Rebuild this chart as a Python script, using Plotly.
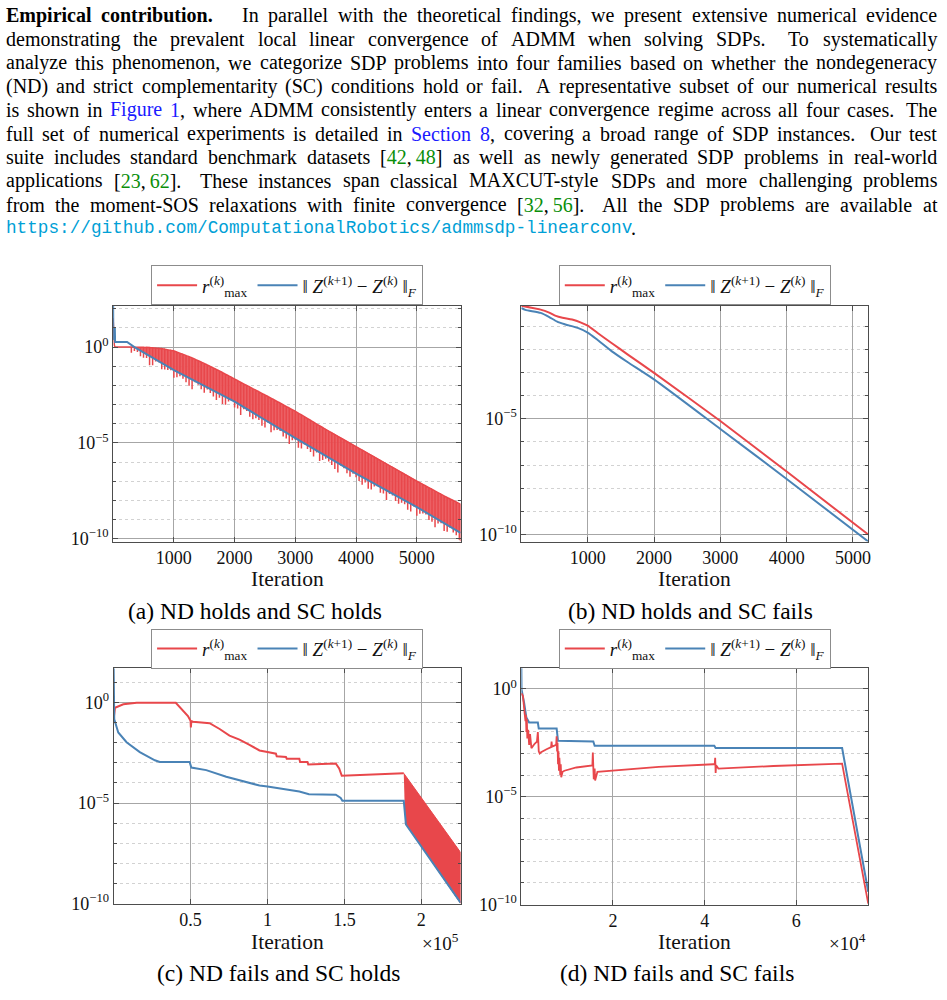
import re
import plotly.graph_objects as go

W, H = 947, 1000
RED = '#E8474B'
RED_FILL = 'rgba(235,84,88,0.93)'
BLUE = '#4A83B6'
GRID = '#a6a6a6'
MINOR = '#d2d2d2'
FRAME = '#4d4d4d'
SERIF = 'Liberation Serif'
MONO = 'Liberation Mono'
TXT = '#111111'

# ---------------- data (y values are log10 of the plotted quantity) ----------------
# (a) ND holds and SC holds
a_blue_x = [0, 3, 20, 28, 32, 230, 350, 1000, 2000, 3000, 4000, 5000, 5720]
a_blue_y = [2.15, 0.4, 0.45, 1.0, 0.27, 0.27, 0.0, -1.2, -2.85, -4.75, -6.6, -8.35, -9.7]
a_red_head_x = [0, 8, 20, 30, 300]
a_red_head_y = [1.5, 0.8, 0.1, 0.0, 0.0]
a_spike_x = [300, 400, 500, 600, 700, 800, 900, 1000, 1100, 1200, 1300, 1400, 1500, 1600,
             1700, 1800, 1900, 2000, 2100, 2200, 2300, 2400, 2500, 2600, 2700, 2800, 2900,
             3000, 3100, 3200, 3300, 3400, 3500, 3600, 3700, 3800, 3900, 4000, 4100, 4200,
             4300, 4400, 4500, 4600, 4700, 4800, 4900, 5000, 5100, 5200, 5300, 5400, 5500,
             5600, 5700]
a_spike_hi = [0.0, -0.01, -0.01, -0.02, -0.05, -0.08, -0.14, -0.2, -0.32, -0.44, -0.57, -0.71,
              -0.85, -1.01, -1.17, -1.33, -1.5, -1.67, -1.84, -2.0, -2.17, -2.33, -2.5, -2.67,
              -2.84, -3.01, -3.18, -3.35, -3.54, -3.73, -3.92, -4.11, -4.3, -4.48, -4.66,
              -4.84, -5.02, -5.2, -5.38, -5.56, -5.74, -5.92, -6.1, -6.28, -6.46, -6.64, -6.82,
              -7.0, -7.17, -7.34, -7.51, -7.68, -7.85, -8.01, -8.17]
a_spike_lo = [-0.3, -0.25, -0.55, -0.95, -0.75, -1.15, -1.2, -1.6, -1.52, -1.83, -2.2, -1.96,
              -2.38, -2.39, -2.76, -2.97, -2.84, -3.15, -3.54, -3.33, -3.77, -3.81, -4.2, -4.44,
              -4.33, -4.67, -5.06, -4.85, -5.29, -5.32, -5.71, -5.94, -5.83, -6.16, -6.55,
              -6.33, -6.77, -6.8, -7.18, -7.4, -7.28, -7.6, -7.98, -7.75, -8.18, -8.2, -8.58,
              -8.8, -8.69, -9.03, -9.41, -9.2, -9.64, -9.68, -10.06]
a_mid_x = [350, 450, 550, 650, 750, 850, 950, 1050, 1150, 1250, 1350, 1450, 1550, 1650, 1750,
           1850, 1950, 2050, 2150, 2250, 2350, 2450, 2550, 2650, 2750, 2850, 2950, 3050, 3150,
           3250, 3350, 3450, 3550, 3650, 3750, 3850, 3950, 4050, 4150, 4250, 4350, 4450, 4550,
           4650, 4750, 4850, 4950, 5050, 5150, 5250, 5350, 5450, 5550, 5650]
a_mid_hi = [0.0, -0.01, -0.015, -0.035, -0.065, -0.11, -0.17, -0.26, -0.38, -0.5, -0.64, -0.78,
            -0.93, -1.09, -1.25, -1.42, -1.58, -1.75, -1.92, -2.08, -2.25, -2.42, -2.58, -2.75,
            -2.92, -3.1, -3.27, -3.45, -3.63, -3.82, -4.02, -4.2, -4.39, -4.57, -4.75, -4.93,
            -5.11, -5.29, -5.47, -5.65, -5.83, -6.01, -6.19, -6.37, -6.55, -6.73, -6.91, -7.08,
            -7.25, -7.42, -7.6, -7.77, -7.93, -8.09]
a_mid_lo = [-0.2, -0.48, -0.57, -0.95, -0.79, -1.17, -1.21, -1.58, -1.65, -2.02, -1.83, -2.2,
            -2.21, -2.58, -2.64, -3.01, -2.82, -3.2, -3.24, -3.63, -3.72, -4.11, -3.95, -4.34,
            -4.38, -4.77, -4.86, -5.25, -5.08, -5.47, -5.5, -5.89, -5.97, -6.36, -6.19, -6.58,
            -6.61, -6.99, -7.07, -7.44, -7.27, -7.64, -7.67, -8.04, -8.12, -8.49, -8.32, -8.7,
            -8.74, -9.12, -9.21, -9.6, -9.44, -9.82]
a_red_tail_x = [5720, 5720]
a_red_tail_y = [-8.2, -10.15]

# (b) ND holds and SC fails
b_red_x = [0, 290, 420, 520, 620, 765, 900, 1000, 1150, 1365, 1600, 2000, 3000, 4000, 5230]
b_red_y = [-0.12, -0.29, -0.42, -0.56, -0.64, -0.72, -0.85, -0.98, -1.3, -1.74, -2.22, -3.02,
           -5.1, -7.28, -10.0]
b_blue_x = [0, 60, 291, 415, 540, 665, 850, 1000, 1150, 1365, 1600, 2000, 3000, 4000, 5230]
b_blue_y = [-0.22, -0.3, -0.43, -0.6, -0.81, -0.93, -1.08, -1.28, -1.6, -2.09, -2.55, -3.3,
            -5.44, -7.6, -10.3]

# (c) ND fails and SC holds  (x in units of 1e5 iterations)
c_red_x = [0, 0.009, 0.063, 0.15, 0.404, 0.45, 0.483, 0.5, 0.502, 0.505, 0.516, 0.624, 0.689,
           0.753, 0.818, 0.883, 0.948, 1.0, 1.055, 1.06, 1.12, 1.125, 1.207, 1.212, 1.26,
           1.265, 1.444, 1.466, 1.483, 1.886]
c_red_y = [-0.82, -0.25, -0.08, 0.0, 0.0, -0.36, -0.66, -0.9, -1.23, -0.92, -0.95, -1.02,
           -1.31, -1.64, -1.84, -2.1, -2.38, -2.46, -2.54, -2.67, -2.7, -2.79, -2.79, -2.95,
           -2.95, -3.08, -3.03, -3.28, -3.64, -3.52]
c_band_x = [1.886, 2.255, 2.255, 1.895]
c_band_y = [-3.52, -7.46, -10.0, -5.98]
c_blue_x = [0, 0.002, 0.004, 0.03, 0.084, 0.17, 0.268, 0.3, 0.494, 0.505, 0.602, 0.732, 0.861,
            0.948, 1.0, 1.12, 1.207, 1.27, 1.444, 1.476, 1.487, 1.886, 1.9, 2.255]
c_blue_y = [1.72, 0.0, -0.82, -1.48, -1.97, -2.46, -2.87, -2.95, -2.95, -3.23, -3.36, -3.69,
            -3.97, -4.13, -4.18, -4.34, -4.43, -4.56, -4.59, -4.75, -4.89, -4.89, -6.07, -9.97]

# (d) ND fails and SC fails  (x in units of 1e4 iterations)
d_red_x = [0.0, 0.035, 0.07, 0.09, 0.1, 0.11, 0.12, 0.13, 0.15, 0.17, 0.19, 0.22, 0.29, 0.34,
           0.36, 0.38, 0.4, 0.43, 0.55, 0.65, 0.66, 0.67, 0.76, 0.77, 0.78, 0.79, 0.8, 0.81,
           0.82, 0.83, 0.85, 0.86, 0.87, 0.9, 0.94, 1.2, 1.55, 1.56, 1.57, 1.58, 1.6, 1.61,
           1.66, 2.13, 3.0, 4.19, 4.22, 4.23, 4.24, 4.25, 4.3, 5.5, 7.0, 7.57]
d_red_y = [-0.2, -0.33, -1.1, -1.5, -1.2, -2.0, -1.4, -2.3, -1.9, -2.6, -2.1, -2.75, -2.55,
           -2.45, -2.0, -2.9, -3.0, -2.94, -2.8, -2.7, -2.45, -2.68, -2.6, -2.2, -2.9, -2.5,
           -3.5, -2.9, -3.8, -3.2, -4.0, -3.5, -4.1, -3.85, -3.8, -3.65, -3.55, -2.95, -3.6,
           -4.2, -3.7, -4.25, -3.85, -3.78, -3.62, -3.5, -3.5, -3.2, -3.9, -3.55, -3.7, -3.58,
           -3.47, -9.97]
d_blue_x = [0, 0.004, 0.06, 0.11, 0.17, 0.36, 0.38, 0.77, 0.8, 1.57, 1.6, 4.21, 4.24, 7.0, 7.57]
d_blue_y = [0.97, -0.03, -0.64, -1.33, -1.56, -1.56, -1.84, -1.84, -2.41, -2.44, -2.64, -2.64,
            -2.75, -2.75, -9.42]

# axis ticks / labels
iter_ticks = [1000, 2000, 3000, 4000, 5000]
c_ticks = [0.5, 1, 1.5, 2]
c_ticktext = ['0.5', '1', '1.5', '2']
d_ticks = [2, 4, 6]
d_ticktext = ['2', '4', '6']
captions = ['(a) ND holds and SC holds', '(b) ND holds and SC fails',
            '(c) ND fails and SC holds', '(d) ND fails and SC fails']
R_NAME = "<i>r</i><sup>(<i>k</i>)</sup><sub>max</sub>"
Z_NAME = "‖ <i>Z</i><sup>(<i>k</i>+1)</sup> − <i>Z</i><sup>(<i>k</i>)</sup> ‖<sub><i>F</i></sub>"

LINK = '#1a1aff'
CITE = '#0a8f0a'
URLC = '#00A0D6'
para_lines = [
    "<b>Empirical</b> <b>contribution.</b>¦ In parallel with the theoretical findings, we present extensive numerical evidence",
    "demonstrating the prevalent local linear convergence of ADMM when solving SDPs.  To systematically",
    "analyze this phenomenon, we categorize SDP problems into four families based on whether the nondegeneracy",
    "(ND) and strict complementarity (SC) conditions hold or fail.  A representative subset of our numerical results",
    "is shown in §Figure§ §1§, where ADMM consistently enters a linear convergence regime across all four cases.  The",
    "full set of numerical experiments is detailed in §Section§ §8§, covering a broad range of SDP instances.  Our test",
    "suite includes standard benchmark datasets [¤42¤,\u2009¤48¤] as well as newly generated SDP problems in real-world",
    "applications [¤23¤,\u2009¤62¤].  These instances span classical MAXCUT-style SDPs and more challenging problems",
    "from the moment-SOS relaxations with finite convergence [¤32¤,\u2009¤56¤].  All the SDP problems are available at",
]
url_text = "https://github.com/ComputationalRobotics/admmsdp-linearconv"

# ---------------- helpers ----------------
def L(v):
    return [10 ** t for t in v]

def px_x(p):
    return p / W

def px_y(p):
    return 1 - p / H

TR = dict(zip("abcdefghijklmnopqrstuvwxyz",
              [444, 500, 444, 500, 444, 333, 500, 500, 278, 278, 500, 278, 778, 500, 500, 500,
               500, 333, 389, 278, 500, 500, 722, 500, 500, 444]))
TR.update(dict(zip("ABCDEFGHIJKLMNOPQRSTUVWXYZ",
                   [722, 667, 667, 722, 611, 556, 722, 722, 333, 389, 722, 611, 889, 722, 722,
                    556, 722, 667, 556, 611, 722, 722, 944, 722, 722, 611])))
TR.update({c: 500 for c in "0123456789"})
TR.update({' ': 250, '.': 250, ',': 250, '(': 333, ')': 333, '[': 333, ']': 333, '-': 333,
           '/': 278, ':': 278, '\u2009': 200})
TB = dict(zip("abcdefghijklmnopqrstuvwxyz",
              [500, 556, 444, 556, 444, 333, 500, 556, 278, 333, 556, 278, 833, 556, 500, 556,
               556, 444, 389, 333, 556, 500, 722, 500, 500, 444]))
TB.update({'E': 667, '.': 250, ' ': 250})


def word_em(html):
    w = 0
    bold = False
    for tok in re.split(r'(<[^>]+>)', html):
        if tok.startswith('<'):
            if tok == '<b>':
                bold = True
            elif tok == '</b>':
                bold = False
            continue
        for ch in tok:
            w += (TB if bold else TR).get(ch, 500)
    return w / 1000.0


def markup(word):
    word = re.sub(r'§(.*?)§', lambda m: "<span style='color:%s'>%s</span>" % (LINK, m.group(1)), word)
    word = re.sub(r'¤(.*?)¤', lambda m: "<span style='color:%s'>%s</span>" % (CITE, m.group(1)), word)
    return word


annotations = []
X0, X1 = 6.0, 940.0
LINE0, LSTEP = 15.5, 23.9

parsed = []
for line in para_lines:
    parts = re.split(r'( +)', line)
    words = parts[0::2]
    gaps = parts[1::2]
    items = []
    for wd in words:
        extra = 0.0
        if wd.endswith('¦'):
            wd = wd[:-1]
            extra = 1.0
        plain = wd.replace('§', '').replace('¤', '')
        items.append((markup(wd), word_em(plain), extra))
    parsed.append((items, gaps))

size_lim = []
for items, gaps in parsed:
    em = sum(w + e for _, w, e in items) + sum(0.25 if len(g) == 1 else 0.33 for g in gaps)
    size_lim.append((X1 - X0) / em)
PS = min(20.0, min(size_lim) * 0.995)

for i, (items, gaps) in enumerate(parsed):
    yc = LINE0 + LSTEP * i
    base = [(0.25 if len(g) == 1 else 0.33) * PS for g in gaps]
    wts = [1.0 if len(g) == 1 else 2.0 for g in gaps]
    used = sum((w + e) * PS for _, w, e in items) + sum(base)
    slack = (X1 - X0) - used
    x = X0
    for k, (html, w, e) in enumerate(items):
        annotations.append(dict(x=px_x(x), y=px_y(yc), xref='paper', yref='paper', text=html,
                                showarrow=False, xanchor='left', yanchor='middle',
                                borderpad=0, borderwidth=0,
                                font=dict(family=SERIF, size=PS, color='#000000')))
        x += (w + e) * PS
        if k < len(gaps):
            x += base[k] + slack * wts[k] / sum(wts)

# URL line
yc = LINE0 + LSTEP * 9
US = 17.7
annotations.append(dict(x=px_x(X0), y=px_y(yc), xref='paper', yref='paper', text=url_text,
                        showarrow=False, xanchor='left', yanchor='middle', borderpad=0,
                        borderwidth=0, font=dict(family=MONO, size=US, color=URLC)))
annotations.append(dict(x=px_x(X0 + len(url_text) * 0.6 * US), y=px_y(yc), xref='paper',
                        yref='paper', text='.', showarrow=False, xanchor='left',
                        yanchor='middle', borderpad=0, borderwidth=0,
                        font=dict(family=SERIF, size=PS, color='#000000')))

# ---------------- figure ----------------
fig = go.Figure()

def add(tr, k):
    sfx = '' if k == 1 else str(k)
    tr.update(xaxis='x' + sfx, yaxis='y' + sfx)
    fig.add_trace(tr)

def legend_entries(k):
    lg = 'legend' if k == 1 else 'legend%d' % k
    add(go.Scatter(x=[None], y=[None], mode='lines', line=dict(color=RED, width=2),
                   name=R_NAME, legend=lg, showlegend=True), k)
    add(go.Scatter(x=[None], y=[None], mode='lines', line=dict(color=BLUE, width=2),
                   name=Z_NAME, legend=lg, showlegend=True), k)

# (a)
spikes = sorted(list(zip(a_spike_x, a_spike_hi, a_spike_lo)) +
                list(zip(a_mid_x, a_mid_hi, a_mid_lo)))
poly_x = [s[0] for s in spikes] + [a_red_tail_x[0]] + [x for x in reversed(a_blue_x) if x >= 350]
poly_y = [s[1] for s in spikes] + [a_red_tail_y[0]] + \
         [y for x, y in zip(reversed(a_blue_x), reversed(a_blue_y)) if x >= 350]
add(go.Scatter(x=poly_x, y=L(poly_y), mode='lines', fill='toself', fillcolor=RED_FILL,
               line=dict(width=0), showlegend=False, hoverinfo='skip'), 1)
rx, ry = list(a_red_head_x), list(a_red_head_y)
for x, hi, lo in spikes:
    rx += [x, x, x]
    ry += [hi, lo, hi]
rx += a_red_tail_x
ry += a_red_tail_y
add(go.Scatter(x=rx, y=L(ry), mode='lines', line=dict(color=RED, width=1.5),
               showlegend=False), 1)
add(go.Scatter(x=a_blue_x, y=L(a_blue_y), mode='lines', line=dict(color=BLUE, width=2),
               showlegend=False), 1)
legend_entries(1)

# (b)
add(go.Scatter(x=b_red_x, y=L(b_red_y), mode='lines',
               line=dict(color=RED, width=2, shape='spline', smoothing=0.6), showlegend=False), 2)
add(go.Scatter(x=b_blue_x, y=L(b_blue_y), mode='lines',
               line=dict(color=BLUE, width=2, shape='spline', smoothing=0.6), showlegend=False), 2)
legend_entries(2)

# (c)
add(go.Scatter(x=c_red_x, y=L(c_red_y), mode='lines', line=dict(color=RED, width=2),
               showlegend=False), 3)
add(go.Scatter(x=c_band_x, y=L(c_band_y), mode='lines', fill='toself', fillcolor=RED,
               line=dict(color=RED, width=1), showlegend=False), 3)
add(go.Scatter(x=c_blue_x, y=L(c_blue_y), mode='lines', line=dict(color=BLUE, width=2),
               showlegend=False), 3)
legend_entries(3)

# (d)
add(go.Scatter(x=d_blue_x, y=L(d_blue_y), mode='lines', line=dict(color=BLUE, width=2),
               showlegend=False), 4)
add(go.Scatter(x=d_red_x, y=L(d_red_y), mode='lines', line=dict(color=RED, width=1.8),
               showlegend=False), 4)
legend_entries(4)

TICKFONT = dict(family=SERIF, size=18, color=TXT)
EXP_TEXT = {0: '10<sup>0</sup>', -5: '10<sup>−5</sup>', -10: '10<sup>−10</sup>'}


def yax(rng, majors, dom, anchor):
    minors = [10 ** k for k in range(-12, 4) if rng[0] <= k <= rng[1] and k not in majors]
    return dict(type='log', range=rng, domain=dom, anchor=anchor,
                tickmode='array', tickvals=[10 ** k for k in majors],
                ticktext=[EXP_TEXT[k] for k in majors],
                showgrid=True, gridcolor=GRID, gridwidth=1, zeroline=False,
                showline=True, linecolor=FRAME, linewidth=1, mirror='ticks',
                ticks='inside', ticklen=5, tickcolor=FRAME, tickfont=TICKFONT,
                minor=dict(tickmode='array', tickvals=minors, ticks='inside', ticklen=3,
                           tickcolor=FRAME, showgrid=True, gridcolor=MINOR, griddash='dot',
                           gridwidth=1))


def xax(rng, tv, tt, dom, anchor):
    return dict(range=rng, domain=dom, anchor=anchor, tickmode='array', tickvals=tv,
                ticktext=tt, showgrid=True, gridcolor=GRID, gridwidth=1, zeroline=False,
                showline=True, linecolor=FRAME, linewidth=1, mirror='ticks',
                ticks='inside', ticklen=5, tickcolor=FRAME, tickfont=TICKFONT)


dom_a = ([113.5 / W, 462 / W], [1 - 547 / H, 1 - 309 / H])
dom_b = ([523 / W, 871 / W], [1 - 547 / H, 1 - 309 / H])
dom_c = ([114 / W, 462 / W], [1 - 913 / H, 1 - 675 / H])
dom_d = ([523 / W, 871 / W], [1 - 914 / H, 1 - 675 / H])

layout = dict(
    width=W, height=H, margin=dict(l=0, r=0, t=0, b=0),
    paper_bgcolor='white', plot_bgcolor='white',
    xaxis=xax([0, 5720], iter_ticks, [str(v) for v in iter_ticks], dom_a[0], 'y'),
    yaxis=yax([-10.15, 2.15], [0, -5, -10], dom_a[1], 'x'),
    xaxis2=xax([0, 5230], iter_ticks, [str(v) for v in iter_ticks], dom_b[0], 'y2'),
    yaxis2=yax([-10.3, -0.13], [-5, -10], dom_b[1], 'x2'),
    xaxis3=xax([0, 2.255], c_ticks, c_ticktext, dom_c[0], 'y3'),
    yaxis3=yax([-10.03, 1.72], [0, -5, -10], dom_c[1], 'x3'),
    xaxis4=xax([0, 7.57], d_ticks, d_ticktext, dom_d[0], 'y4'),
    yaxis4=yax([-10.03, 0.96], [0, -5, -10], dom_d[1], 'x4'),
    showlegend=True,
)

def legend_box(cx, top):
    return dict(x=px_x(cx), y=px_y(top), xanchor='center', yanchor='top', orientation='h',
                bordercolor='#8c8c8c', borderwidth=1, bgcolor='white',
                font=dict(family=SERIF, size=19, color=TXT), itemwidth=40,
                tracegroupgap=0)

layout['legend'] = legend_box(288, 268)
layout['legend2'] = legend_box(697, 268)
layout['legend3'] = legend_box(288, 635)
layout['legend4'] = legend_box(697, 635)

# axis labels, multipliers, captions
LBL = dict(family=SERIF, size=21.5, color=TXT)
for cx, cy in [(288, 585), (697, 585), (288, 952), (697, 952)]:
    annotations.append(dict(x=px_x(cx), y=px_y(cy), xref='paper', yref='paper',
                            text='Iteration', showarrow=False, xanchor='center',
                            yanchor='middle', font=LBL))
for rxp, txt in [(462, '×10<sup>5</sup>'), (871, '×10<sup>4</sup>')]:
    annotations.append(dict(x=px_x(rxp), y=px_y(952), xref='paper', yref='paper', text=txt,
                            showarrow=False, xanchor='right', yanchor='middle',
                            font=dict(family=SERIF, size=19, color=TXT)))
for (cx, cy), txt in zip([(256, 617), (693, 617), (279, 983), (679, 983)], captions):
    annotations.append(dict(x=px_x(cx), y=px_y(cy), xref='paper', yref='paper', text=txt,
                            showarrow=False, xanchor='center', yanchor='middle',
                            font=dict(family=SERIF, size=23.5, color='#000000')))

layout['annotations'] = annotations
fig.update_layout(**layout)
fig.write_html("out.html", config={'displayModeBar': False})
